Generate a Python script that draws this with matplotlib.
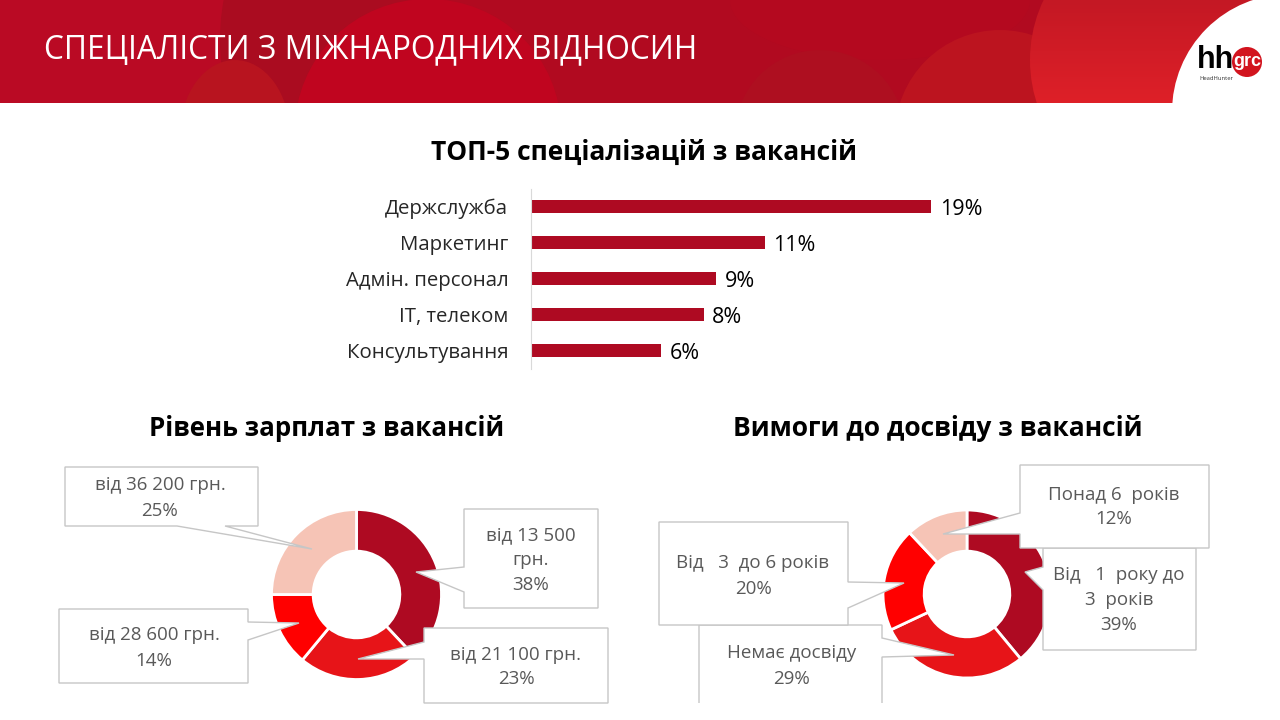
#!/usr/bin/env python3

import numpy as np
import matplotlib
matplotlib.use('Agg')
import matplotlib.pyplot as plt
from matplotlib.colors import LinearSegmentedColormap
from matplotlib.patches import Circle, Ellipse, Polygon, Rectangle

plt.rcParams['font.family'] = ['Open Sans', 'DejaVu Sans']

W, H = 1280, 720

# data
page_title = 'СПЕЦІАЛІСТИ З МІЖНАРОДНИХ ВІДНОСИН'

spec_title = 'ТОП-5 спеціалізацій з вакансій'
spec_names = ['Держслужба', 'Маркетинг', 'Адмін. персонал', 'IT, телеком', 'Консультування']
spec_values = [19.0, 11.1, 8.8, 8.2, 6.2]
spec_labels = ['19%', '11%', '9%', '8%', '6%']

salary_title = 'Рівень зарплат з вакансій'
salary_names = ['від 13 500\nгрн.', 'від 21 100 грн.', 'від 28 600 грн.', 'від 36 200 грн.']
salary_values = [38, 23, 14, 25]

exp_title = 'Вимоги до досвіду з вакансій'
exp_names = ['Від   1  року до\n3  років', 'Немає досвіду', 'Від   3  до 6 років', 'Понад 6  років']
exp_values = [39, 29, 20, 12]

ring_colors = ['#AE0A22', '#E71418', '#FF0000', '#F6C4B6']
bar_color = '#AE0A22'
callout_edge = '#C6C6C6'
callout_text = '#595959'


def axes_px(fig, left, top, width, height, **kw):
    # axes placed with pixel coordinates measured from the top left corner
    return fig.add_axes([left / W, 1 - (top + height) / H, width / W, height / H], **kw)


def draw_header(ax):
    clip = Rectangle((0, 0), W, 103, transform=ax.transData)
    ax.add_patch(Rectangle((0, 0), W, 103, facecolor='#B10A20', edgecolor='none', zorder=1))
    shapes = [
        (Ellipse((60, 30), 380, 300), '#BA0A24'),
        (Ellipse((320, 40), 200, 300), '#AA0C20'),
        (Ellipse((235, 135), 110, 150), '#B8141F'),
        (Ellipse((428, 130), 266, 262), '#C0051F'),
        (Ellipse((880, 0), 300, 120), '#B4091F'),
        (Ellipse((820, 135), 170, 170), '#AE0F20'),
        (Ellipse((1000, 135), 210, 210), '#BC141F'),
    ]
    for patch, color in shapes:
        patch.set_facecolor(color)
        patch.set_edgecolor('none')
        patch.set_zorder(2)
        ax.add_patch(patch)
        patch.set_clip_path(clip)

    # lighter disc on the right, brighter towards the bottom
    disc = Ellipse((1150, 60), 240, 260, facecolor='none', edgecolor='none', zorder=2)
    ax.add_patch(disc)
    ramp = LinearSegmentedColormap.from_list('ramp', ['#C41824', '#DE2028'])
    shade = ax.imshow(np.linspace(0, 1, 64).reshape(-1, 1), cmap=ramp, extent=(1030, 1270, 103, 0),
                      aspect='auto', zorder=2.5)
    shade.set_clip_path(disc)
    ax.set_xlim(0, W)
    ax.set_ylim(H, 0)

    white = Circle((1290, 112), 118, facecolor='white', edgecolor='none', zorder=3)
    ax.add_patch(white)
    white.set_clip_path(clip)

    ax.text(44, 50, page_title, color='white', fontsize=22.75, va='center', ha='left', zorder=5)

    # logo
    ax.text(1197, 60, 'hh', color='black', fontsize=22, fontweight='bold', family='Liberation Sans',
            va='center', ha='left', zorder=5)
    ax.add_patch(Circle((1247, 62), 15, facecolor='#D2141E', edgecolor='none', zorder=5))
    ax.text(1247, 61, 'grc', color='white', fontsize=13, fontweight='bold', family='Liberation Sans',
            va='center', ha='center', zorder=6)
    ax.text(1199, 78, 'HeadHunter', color='#333333', fontsize=4.2, va='center', ha='left', zorder=5)


def draw_ring(fig, cx, cy, r, values):
    ax = axes_px(fig, cx - r, cy - r, 2 * r, 2 * r, zorder=2)
    ax.pie(values, colors=ring_colors, startangle=90, counterclock=False, radius=1,
           wedgeprops=dict(width=0.49, edgecolor='white', linewidth=2))
    ax.set_xlim(-1, 1)
    ax.set_ylim(-1, 1)
    return ax


def callout(ax, points, text, text_xy, closed=True, z=5):
    ax.add_patch(Polygon(points, closed=closed, facecolor='white', edgecolor=callout_edge,
                         linewidth=1, zorder=z))
    ax.text(text_xy[0], text_xy[1], text, color=callout_text, fontsize=13.5, ha='center',
            va='center', linespacing=1.5, zorder=z + 0.5)


fig = plt.figure(figsize=(W / 100, H / 100), dpi=100, facecolor='white')

back = axes_px(fig, 0, 0, W, H, zorder=1)
back.set_xlim(0, W)
back.set_ylim(H, 0)
back.axis('off')
draw_header(back)

back.text(644, 152, spec_title, fontsize=19, fontweight='bold', color='black', ha='center', va='center')
back.text(327, 429, salary_title, fontsize=18.65, fontweight='bold', color='black', ha='center', va='center')
back.text(938, 429, exp_title, fontsize=19, fontweight='bold', color='black', ha='center', va='center')

# bar chart
bars_ax = axes_px(fig, 530.5, 188.5, 470, 180, zorder=2)
bars_ax.patch.set_visible(False)
y_pos = np.arange(len(spec_names))
bars_ax.barh(y_pos, spec_values, height=0.37, color=bar_color)
for i, value in enumerate(spec_values):
    bars_ax.annotate(spec_labels[i], (value, i), xytext=(6, -2.5), textcoords='offset points',
                     va='center', ha='left', fontsize=15.5, color='black')
bars_ax.set_xlim(0, 470 / 21.1)
bars_ax.set_ylim(4.5, -0.5)
bars_ax.set_yticks(y_pos, spec_names)
bars_ax.set_xticks([])
bars_ax.tick_params(axis='y', length=0, pad=16, labelsize=14.7, labelcolor='#262626')
for side in ['top', 'right', 'bottom']:
    bars_ax.spines[side].set_visible(False)
bars_ax.spines['left'].set_color('#D9D9D9')

# rings
draw_ring(fig, 356.5, 594.5, 85, salary_values)
draw_ring(fig, 967, 594, 84, exp_values)

front = axes_px(fig, 0, 0, W, H, zorder=3)
front.set_xlim(0, W)
front.set_ylim(H, 0)
front.axis('off')

# salary callouts
callout(front, [(65, 467), (258, 467), (258, 526), (225, 526), (312, 549), (177, 526), (65, 526)],
        f'{salary_names[3]}\n{salary_values[3]}%', (160, 498))
callout(front, [(464, 509), (598, 509), (598, 608), (464, 608), (464, 592), (416, 572), (464, 567)],
        f'{salary_names[0]}\n{salary_values[0]}%', (531, 560))
callout(front, [(424, 628), (608, 628), (608, 703), (424, 703), (424, 659), (358, 659), (424, 642)],
        f'{salary_names[1]}\n{salary_values[1]}%', (516, 667))
callout(front, [(59, 609), (248, 609), (248, 622), (299, 623), (248, 640), (248, 683), (59, 683)],
        f'{salary_names[2]}\n{salary_values[2]}%', (154, 648))

# experience callouts
callout(front, [(699, 703), (699, 625), (882, 625), (882, 638), (954, 655), (882, 657), (882, 703)],
        f'{exp_names[1]}\n{exp_values[1]}%', (792, 666), closed=False, z=4)
callout(front, [(659, 522), (848, 522), (848, 582), (904, 583), (848, 608), (848, 625), (659, 625)],
        f'{exp_names[2]}\n{exp_values[2]}%', (753, 576), z=5)
callout(front, [(1043, 548), (1196, 548), (1196, 650), (1043, 650), (1043, 590), (1025, 572), (1043, 567)],
        f'{exp_names[0]}\n{exp_values[0]}%', (1119, 600), z=6)
callout(front, [(1020, 465), (1209, 465), (1209, 548), (1020, 548), (1020, 534), (943, 534), (1020, 513)],
        f'{exp_names[3]}\n{exp_values[3]}%', (1114, 507), z=7)

fig.savefig('out.png', dpi=100)
